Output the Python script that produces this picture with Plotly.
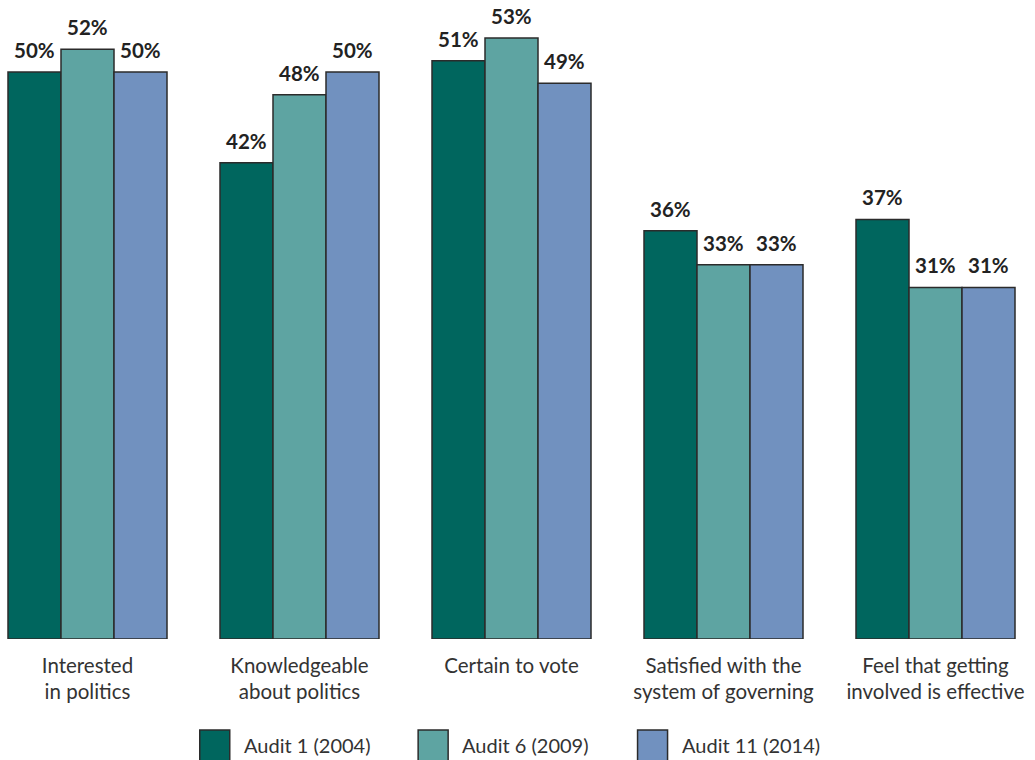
import plotly.graph_objects as go

categories = ["Interested<br>in politics", "Knowledgeable<br>about politics", "Certain to vote",
              "Satisfied with the<br>system of governing", "Feel that getting<br>involved is effective"]
series_names = ["Audit 1 (2004)", "Audit 6 (2009)", "Audit 11 (2014)"]
audit1 = [50, 42, 51, 36, 37]
audit6 = [52, 48, 53, 33, 31]
audit11 = [50, 50, 49, 33, 31]
series_values = [audit1, audit6, audit11]
colors = ["#00665E", "#5EA4A2", "#7191BF"]

BAR_W = 0.25
FONT = "Lato"

fig = go.Figure()
xs = list(range(len(categories)))
for j, (name, vals, col) in enumerate(zip(series_names, series_values, colors)):
    fig.add_trace(go.Bar(
        x=xs, y=vals, name=name, marker_color=col,
        marker_line_color="#2b2b2b", marker_line_width=1.5,
        showlegend=False, hoverinfo="y+name",
    ))
    for i, v in enumerate(vals):
        fig.add_annotation(x=i + (j - 1) * BAR_W, y=v, text=f"<b>{v}%</b>",
                           showarrow=False, yanchor="bottom", yshift=8,
                           font=dict(family=FONT, size=20.5, color="#222222"))

# custom legend with large swatches
leg_x = [0.193, 0.404, 0.616]
for name, col, lx in zip(series_names, colors, leg_x):
    fig.add_shape(type="rect", xref="paper", yref="paper",
                  x0=lx, x1=lx + 30 / 1035, y0=-(730 - 639) / 639,
                  y1=-(770 - 639) / 639,
                  fillcolor=col, line=dict(color="#2b2b2b", width=1.5))
    fig.add_annotation(xref="paper", yref="paper", x=lx + 42 / 1035, y=-(745 - 639) / 639,
                       text=name, showarrow=False, xanchor="left", yanchor="middle",
                       font=dict(family=FONT, size=20, color="#333333"))

fig.update_layout(
    width=1035, height=760,
    margin=dict(l=0, r=0, t=0, b=121),
    barmode="group", bargap=0.25, bargroupgap=0,
    plot_bgcolor="white", paper_bgcolor="white",
    xaxis=dict(range=[-87.5 / 212, (1035 - 87.5) / 212], tickvals=xs, ticktext=categories,
               showgrid=False, zeroline=False, showline=False, ticks="",
               ticklabelstandoff=12,
               tickfont=dict(family=FONT, size=20.5, color="#333333")),
    yaxis=dict(range=[0, 639 / 11.34], visible=False, showgrid=False, zeroline=False),
)

fig.write_html("out.html")
